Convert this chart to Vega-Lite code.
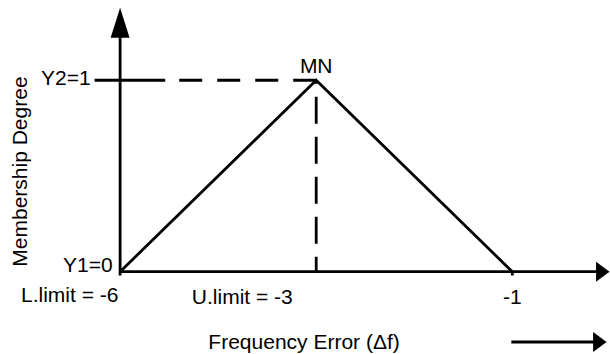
{
  "$schema": "https://vega.github.io/schema/vega-lite/v6.json",
  "width": 610,
  "height": 354,
  "autosize": {"type": "fit", "contains": "padding"},
  "padding": 0,
  "background": "white",
  "config": {"view": {"stroke": null}},
  "layer": [
    {
      "data": {"values": [
        {"x": 0, "y": 0},
        {"x": 1, "y": 1},
        {"x": 2, "y": 0}
      ]},
      "mark": {"type": "line", "color": "black", "strokeWidth": 2.8, "strokeJoin": "miter"},
      "encoding": {
        "x": {"field": "x", "type": "quantitative", "scale": {"domain": [-0.6125, 2.488], "nice": false, "zero": false}, "axis": null},
        "y": {"field": "y", "type": "quantitative", "scale": {"domain": [-0.4245, 1.419], "nice": false, "zero": false}, "axis": null}
      }
    },
    {
      "data": {"values": [
        {"x": 0, "x2": 0, "y": -0.02, "y2": 1.25},
        {"x": 0, "x2": 2.45, "y": 0, "y2": 0},
        {"x": 2, "x2": 2, "y": -0.02, "y2": 0},
        {"x": -0.13, "x2": 0.23, "y": 1, "y2": 1},
        {"x": 1.995, "x2": 2.43, "y": -0.367, "y2": -0.367}
      ]},
      "mark": {"type": "rule", "color": "black", "strokeWidth": 2.8},
      "encoding": {
        "x": {"field": "x", "type": "quantitative"},
        "x2": {"field": "x2"},
        "y": {"field": "y", "type": "quantitative"},
        "y2": {"field": "y2"}
      }
    },
    {
      "data": {"values": [
        {"x": 1, "x2": 0.23, "y": 1, "y2": 1}
      ]},
      "mark": {"type": "rule", "color": "black", "strokeWidth": 2.8, "strokeDash": [23, 15]},
      "encoding": {
        "x": {"field": "x", "type": "quantitative"},
        "x2": {"field": "x2"},
        "y": {"field": "y", "type": "quantitative"},
        "y2": {"field": "y2"}
      }
    },
    {
      "data": {"values": [
        {"x": 1, "x2": 1, "y": 0, "y2": 1}
      ]},
      "mark": {"type": "rule", "color": "black", "strokeWidth": 2.8, "strokeDash": [27, 13], "strokeDashOffset": 12},
      "encoding": {
        "x": {"field": "x", "type": "quantitative"},
        "x2": {"field": "x2"},
        "y": {"field": "y", "type": "quantitative"},
        "y2": {"field": "y2"}
      }
    },
    {
      "data": {"values": [
        {"x": 0, "y": 1.3}
      ]},
      "mark": {"type": "point", "filled": true, "color": "black", "opacity": 1, "strokeWidth": 0, "size": 900, "shape": "M0,-1L0.63,1L-0.63,1Z"},
      "encoding": {
        "x": {"field": "x", "type": "quantitative"},
        "y": {"field": "y", "type": "quantitative"}
      }
    },
    {
      "data": {"values": [
        {"x": 2.427, "y": 0},
        {"x": 2.412, "y": -0.367}
      ]},
      "mark": {"type": "point", "filled": true, "color": "black", "opacity": 1, "strokeWidth": 0, "size": 400, "shape": "M0,-1L1.35,0L0,1Z"},
      "encoding": {
        "x": {"field": "x", "type": "quantitative"},
        "y": {"field": "y", "type": "quantitative"}
      }
    },
    {
      "data": {"values": [
        {"x": 1, "y": 1.039, "label": "MN"},
        {"x": -0.257, "y": -0.159, "label": "L.limit = -6"},
        {"x": 0.623, "y": -0.169, "label": "U.limit = -3"},
        {"x": 2.0, "y": -0.169, "label": "-1"},
        {"x": 0.938, "y": -0.404, "label": "Frequency Error (Δf)"}
      ]},
      "mark": {"type": "text", "font": "Liberation Sans", "fontSize": 21, "color": "black", "align": "center", "baseline": "alphabetic"},
      "encoding": {
        "x": {"field": "x", "type": "quantitative"},
        "y": {"field": "y", "type": "quantitative"},
        "text": {"field": "label"}
      }
    },
    {
      "data": {"values": [
        {"x": -0.15, "y": 0.977, "label": "Y2=1"},
        {"x": -0.038, "y": 0, "label": "Y1=0"}
      ]},
      "mark": {"type": "text", "font": "Liberation Sans", "fontSize": 21, "color": "black", "align": "right", "baseline": "alphabetic"},
      "encoding": {
        "x": {"field": "x", "type": "quantitative"},
        "y": {"field": "y", "type": "quantitative"},
        "text": {"field": "label"}
      }
    },
    {
      "data": {"values": [
        {"x": -0.505, "y": 0.523, "label": "Membership Degree"}
      ]},
      "mark": {"type": "text", "font": "Liberation Sans", "fontSize": 21, "color": "black", "align": "center", "baseline": "middle", "angle": 270},
      "encoding": {
        "x": {"field": "x", "type": "quantitative"},
        "y": {"field": "y", "type": "quantitative"},
        "text": {"field": "label"}
      }
    }
  ]
}
